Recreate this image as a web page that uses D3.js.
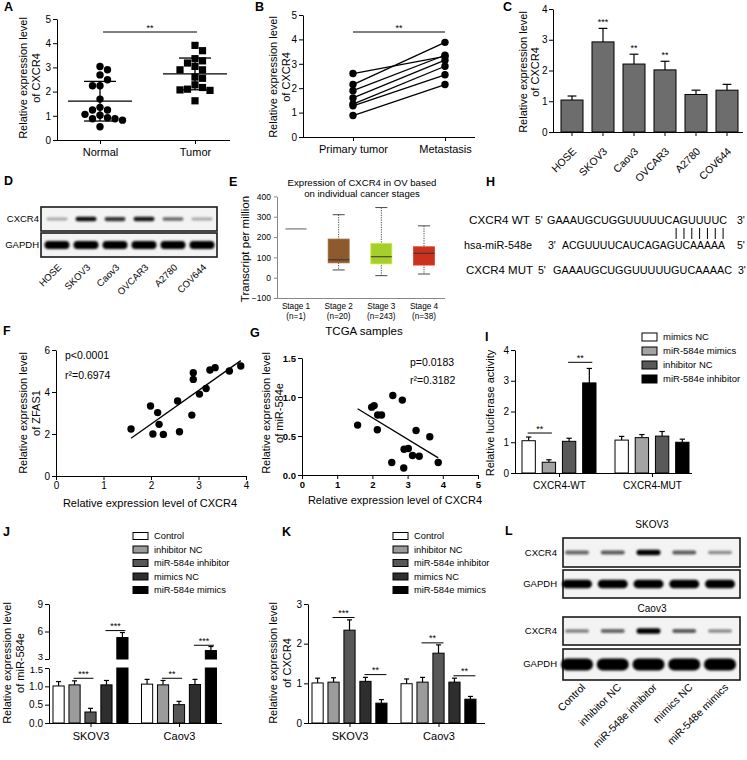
<!DOCTYPE html>
<html><head><meta charset="utf-8">
<script src="https://cdn.jsdelivr.net/npm/d3@7"></script>
<style>
body{margin:0;background:#fff;}
svg{display:block;}
</style></head><body>
<svg id="fig" width="747" height="760"></svg>
<script>
// ================= DATA =================
// A
const aGroups = ["Normal", "Tumor"];
const aNormal = [3.04, 2.9, 2.69, 2.49, 2.24, 2.24, 1.69, 1.35, 1.24, 1.24, 1.06, 1.02, 0.92, 0.88, 0.88, 0.82, 0.55];
const aTumor = [3.91, 3.69, 3.36, 3.27, 3.18, 3.04, 2.9, 2.9, 2.6, 2.55, 2.28, 2.17, 2.1, 2.07, 2.05, 1.62];
const aTicks = [0, 1, 2, 3, 4, 5];
// B
const bGroups = ["Primary tumor", "Metastasis"];
const bPrimary = [2.6, 2.15, 1.9, 1.6, 1.35, 1.28, 0.88];
const bMetastasis = [3.3, 3.88, 3.35, 3.15, 2.9, 2.55, 2.15];
const bTicks = [0, 1, 2, 3, 4, 5];
// C
const cCells = ["HOSE", "SKOV3", "Caov3", "OVCAR3", "A2780", "COV644"];
const cMean = [1.04, 2.93, 2.21, 2.02, 1.22, 1.36];
const cErr = [0.13, 0.44, 0.32, 0.28, 0.14, 0.19];
const cSig = ["", "***", "**", "**", "", ""];
const cTicks = [0, 1, 2, 3, 4];
// D (band intensities, 0-1)
const dLanes = ["HOSE", "SKOV3", "Caov3", "OVCAR3", "A2780", "COV644"];
const dCXCR4 = [0.3, 0.9, 0.75, 0.85, 0.55, 0.3];
const dGAPDH = [0.95, 0.95, 0.95, 0.95, 0.95, 0.95];
// E
const eStages = ["Stage 1", "Stage 2", "Stage 3", "Stage 4"];
const eN = ["(n=1)", "(n=20)", "(n=243)", "(n=38)"];
const eMin = [240, 38, 10, 18];
const eQ1 = [240, 73, 68, 62];
const eMed = [240, 88, 103, 120];
const eQ3 = [240, 190, 168, 152];
const eMax = [240, 310, 345, 255];
const eColors = ["none", "#8c5a2c", "#a6cf2b", "#c8321f"];
const eTicks = [-100, 0, 100, 200, 300, 400];
// F
const fX = [1.58, 1.99, 2.14, 2.17, 2.04, 2.26, 2.56, 2.6, 2.86, 2.89, 2.89, 3.02, 3.16, 3.24, 3.35, 3.65, 3.89];
const fY = [2.24, 3.33, 3.02, 2.46, 2.0, 1.98, 3.57, 2.11, 2.9, 4.92, 4.6, 3.9, 4.17, 5.05, 5.16, 5.0, 5.24];
const fXTicks = [0, 1, 2, 3, 4];
const fYTicks = [0, 2, 4, 6];
// G
const gX = [1.58, 1.98, 2.05, 2.15, 2.26, 2.14, 2.58, 2.85, 2.55, 2.89, 2.9, 3.02, 3.14, 3.24, 3.33, 3.63, 3.87];
const gY = [0.64, 0.87, 0.89, 0.77, 0.77, 0.58, 1.02, 0.96, 0.16, 0.09, 0.33, 0.34, 0.25, 0.57, 0.24, 0.49, 0.16];
const gXTicks = [0, 1, 2, 3, 4, 5];
const gYTicks = [0, 0.5, 1.0, 1.5];
// H
const hNames = ["CXCR4  WT", "hsa-miR-548e", "CXCR4  MUT"];
const hLeftEnd = ["5'", "3'", "5'"];
const hSeqs = ["GAAAUGCUGGUUUUUCAGUUUUC", "ACGUUUUCAUCAGAGUCAAAAA", "GAAAUGCUGGUUUUUGUCAAAAC"];
const hRightEnd = ["3'", "5'", "3'"];
const hPairs = [16, 17, 18, 19, 20, 21, 22]; // paired positions in WT sequence
// I
const iGroups = ["CXCR4-WT", "CXCR4-MUT"];
const iSeries = ["mimics NC", "miR-584e mimics", "inhibitor NC", "miR-584e inhibitor"];
const iMean = [[1.05, 0.35, 1.03, 2.93], [1.07, 1.15, 1.2, 1.0]];
const iErr = [[0.12, 0.08, 0.1, 0.47], [0.12, 0.1, 0.15, 0.1]];
const iColors = ["#ffffff", "#a3a3a3", "#595959", "#000000"];
const iTicks = [0, 1, 2, 3, 4];
const iSig = [{g: 0, a: 0, b: 1, v: 1.3, t: "**"}, {g: 0, a: 2, b: 3, v: 3.6, t: "**"}];
// J
const jGroups = ["SKOV3", "Caov3"];
const jSeries = ["Control", "inhibitor NC", "miR-584e inhibitor", "mimics NC", "miR-584e mimics"];
const jMean = [[1.01, 1.04, 0.3, 1.04, 5.34], [1.06, 1.04, 0.5, 1.05, 3.92]];
const jErr = [[0.12, 0.11, 0.1, 0.12, 0.55], [0.13, 0.12, 0.09, 0.14, 0.44]];
const jLowTicks = [0, 0.5, 1.0, 1.5];
const jHighTicks = [3, 6, 9];
const jSig = [{g: 0, a: 1, b: 2, v: 1.22, t: "***"}, {g: 0, a: 3, b: 4, v: 6.1, t: "***"},
              {g: 1, a: 1, b: 2, v: 1.22, t: "**"}, {g: 1, a: 3, b: 4, v: 4.5, t: "***"}];
// K
const kGroups = ["SKOV3", "Caov3"];
const kSeries = jSeries;
const kMean = [[1.01, 1.03, 2.34, 1.05, 0.5], [0.99, 1.03, 1.76, 1.03, 0.6]];
const kErr = [[0.12, 0.11, 0.26, 0.1, 0.09], [0.12, 0.12, 0.21, 0.1, 0.07]];
const kTicks = [0, 1, 2, 3];
const kSig = [{g: 0, a: 1, b: 2, v: 2.66, t: "***"}, {g: 0, a: 3, b: 4, v: 1.22, t: "**"},
              {g: 1, a: 1, b: 2, v: 2.02, t: "**"}, {g: 1, a: 3, b: 4, v: 1.19, t: "**"}];
const jkColors = ["#ffffff", "#9b9b9b", "#575757", "#2e2e2e", "#000000"];
// L
const lLanes = ["Control", "inhibitor NC", "miR-548e inhibitor", "mimics NC", "miR-548e mimics"];
const lSkovCXCR4 = [0.55, 0.6, 0.95, 0.6, 0.4];
const lSkovGAPDH = [0.95, 0.95, 0.95, 0.95, 0.95];
const lCaovCXCR4 = [0.45, 0.55, 0.95, 0.6, 0.4];
const lCaovGAPDH = [1, 1, 1, 1, 1];

// ================= HELPERS =================
const FONT = "'Liberation Sans', Arial, Helvetica, sans-serif";
const INT = d3.format("d");
const ONE = d3.format(".1f");
const svg = d3.select("#fig").attr("font-family", FONT);
const defs = svg.append("defs");
defs.append("filter").attr("id", "bl").attr("x", "-30%").attr("y", "-150%").attr("width", "160%").attr("height", "400%")
  .append("feGaussianBlur").attr("stdDeviation", 1.3);

function txt(x, y, s, o = {}) {
  const t = svg.append("text").attr("x", x).attr("y", y).text(s)
    .attr("font-size", o.size || 10).attr("text-anchor", o.anchor || "start")
    .attr("font-weight", o.weight || "normal").attr("fill", o.fill || "#000");
  if (o.rotate !== undefined) t.attr("transform", `rotate(${o.rotate},${x},${y})`);
  if (o.tl) t.attr("textLength", o.tl).attr("lengthAdjust", "spacingAndGlyphs");
  return t;
}
function panelLabel(x, y, s) { txt(x, y, s, {size: 12.5, weight: "bold"}); }
function yTitle(x, cy, lines, size = 11, gap = 12.5) {
  lines.forEach((l, i) => txt(x + i * gap, cy, l, {size, anchor: "middle", rotate: -90}));
}
function styleAx(g, size = 10, weight = "normal", color = "#000") {
  g.attr("font-family", FONT).attr("font-size", size);
  g.selectAll(".domain").attr("stroke", color).attr("stroke-width", 1);
  g.selectAll(".tick line").attr("stroke", color).attr("stroke-width", 1);
  g.selectAll(".tick text").attr("fill", "#000").attr("font-weight", weight);
}
function hline(x1, x2, y, w = 1.2) {
  svg.append("line").attr("x1", x1).attr("x2", x2).attr("y1", y).attr("y2", y).attr("stroke", "#000").attr("stroke-width", w);
}
function vline(x, y1, y2, w = 1.2) {
  svg.append("line").attr("x1", x).attr("x2", x).attr("y1", y1).attr("y2", y2).attr("stroke", "#000").attr("stroke-width", w);
}
function sig(x1, x2, y, t, size = 9) {
  hline(x1, x2, y, 1);
  txt((x1 + x2) / 2, y - 1.5, t, {size, anchor: "middle"});
}
function barErr(x, w, yTop, yErr, yBase, fill) {
  const cx = x + w / 2, cap = Math.max(2.5, w * 0.2);
  vline(cx, yTop, yErr, 1.2);
  hline(cx - cap, cx + cap, yErr, 1.2);
  svg.append("rect").attr("x", x).attr("y", yTop).attr("width", w).attr("height", Math.max(0, yBase - yTop))
    .attr("fill", fill).attr("stroke", "#000").attr("stroke-width", 1);
}
function swarm(values, yScale, minDist, step) {
  const placed = [], offs = [];
  const order = values.map((v, i) => i).sort((a, b) => values[b] - values[a]);
  order.forEach(i => {
    const y = yScale(values[i]);
    for (let k = 0; k < 30; k++) {
      const cands = k === 0 ? [0] : (k % 2 ? [k * step, -k * step] : [-k * step, k * step]);
      const c = cands.find(c => placed.every(p => Math.hypot(p.x - c, p.y - y) >= minDist));
      if (c !== undefined) { offs[i] = c; placed.push({x: c, y}); break; }
    }
  });
  return offs;
}
function blotStrip(x0, x1, y0, y1, xs, lanes, intens, bw, hMax) {
  svg.append("rect").attr("x", x0).attr("y", y0).attr("width", x1 - x0).attr("height", y1 - y0)
    .attr("fill", "#f3f3f3").attr("stroke", "#1a1a1a").attr("stroke-width", 1.6);
  const cy = (y0 + y1) / 2;
  lanes.forEach((l, i) => {
    const a = intens[i], h = hMax * (0.4 + 0.6 * a);
    svg.append("rect").attr("x", xs(l) - bw / 2).attr("y", cy - h / 2).attr("width", bw).attr("height", h)
      .attr("rx", h / 2).attr("fill", "#000").attr("opacity", Math.min(1, a * 1.05)).attr("filter", "url(#bl)");
  });
}
function rotLabels(xs, lanes, dx, y, size) {
  lanes.forEach(l => {
    svg.append("text").attr("transform", `translate(${xs(l) + dx},${y}) rotate(-45)`)
      .attr("text-anchor", "end").attr("font-size", size).attr("fill", "#000").text(l);
  });
}
function legend(x, y0, step, names, colors, size, bw = 15, bh = 8) {
  names.forEach((n, i) => {
    const cy = y0 + i * step;
    svg.append("rect").attr("x", x).attr("y", cy - bh / 2).attr("width", bw).attr("height", bh)
      .attr("fill", colors[i]).attr("stroke", "#000").attr("stroke-width", 1);
    txt(x + bw + 6, cy + size * 0.36, n, {size});
  });
}

// ================= PANEL A =================
{
  panelLabel(4, 11, "A");
  const y = d3.scaleLinear().domain([0, 5]).range([140, 19]);
  const x = d3.scalePoint().domain(aGroups).range([100, 195]);
  svg.append("g").attr("transform", "translate(57,0)")
    .call(d3.axisLeft(y).tickValues(aTicks).tickFormat(INT).tickSize(4).tickSizeOuter(0).tickPadding(2)).call(g => styleAx(g, 10));
  const gx = svg.append("g").attr("transform", "translate(0,140)")
    .call(d3.axisBottom(x).tickSize(4).tickSizeOuter(0).tickPadding(4)).call(g => styleAx(g, 11));
  gx.select(".domain").attr("d", "M57,0.5H230");
  yTitle(27, 78, ["Relative expression level", "of CXCR4"]);
  [aNormal, aTumor].forEach((arr, gi) => {
    const cx = x(aGroups[gi]);
    const m = d3.mean(arr), sd = d3.deviation(arr);
    hline(cx - 32, cx + 32, y(m), 1.3);
    hline(cx - 16, cx + 16, y(m + sd), 1.3);
    hline(cx - 16, cx + 16, y(m - sd), 1.3);
    vline(cx, y(m + sd), y(m - sd), 1.3);
    const offs = swarm(arr, y, 7.4, 7.5);
    arr.forEach((v, i) => {
      if (gi === 0) svg.append("circle").attr("cx", cx + offs[i]).attr("cy", y(v)).attr("r", 3.7).attr("fill", "#000");
      else svg.append("rect").attr("x", cx + offs[i] - 3.6).attr("y", y(v) - 3.6).attr("width", 7.2).attr("height", 7.2).attr("fill", "#000");
    });
  });
  sig(103, 197, 32, "**");
}

// ================= PANEL B =================
{
  panelLabel(255, 11, "B");
  const y = d3.scaleLinear().domain([0, 5]).range([137, 15]);
  const x = d3.scalePoint().domain(bGroups).range([353, 445]);
  svg.append("g").attr("transform", "translate(303,0)")
    .call(d3.axisLeft(y).tickValues(bTicks).tickFormat(INT).tickSize(4).tickSizeOuter(0).tickPadding(2)).call(g => styleAx(g, 10));
  const gx = svg.append("g").attr("transform", "translate(0,137)")
    .call(d3.axisBottom(x).tickSize(4).tickSizeOuter(0).tickPadding(4)).call(g => styleAx(g, 11));
  gx.select(".domain").attr("d", "M303,0.5H475");
  yTitle(277, 77, ["Relative expression level", "of CXCR4"]);
  bPrimary.forEach((v, i) => {
    svg.append("line").attr("x1", x(bGroups[0])).attr("y1", y(v)).attr("x2", x(bGroups[1])).attr("y2", y(bMetastasis[i]))
      .attr("stroke", "#000").attr("stroke-width", 1.3);
  });
  bPrimary.forEach(v => svg.append("circle").attr("cx", x(bGroups[0])).attr("cy", y(v)).attr("r", 3.7).attr("fill", "#000"));
  bMetastasis.forEach(v => svg.append("circle").attr("cx", x(bGroups[1])).attr("cy", y(v)).attr("r", 3.7).attr("fill", "#000"));
  sig(353, 445, 32, "**");
}

// ================= PANEL C =================
{
  panelLabel(503, 11, "C");
  const y = d3.scaleLinear().domain([0, 4]).range([132, 9]);
  const x = d3.scaleBand().domain(cCells).range([556.5, 742.5]).paddingInner(0.29).paddingOuter(0.145);
  svg.append("g").attr("transform", "translate(553,0)")
    .call(d3.axisLeft(y).tickValues(cTicks).tickFormat(INT).tickSize(4).tickSizeOuter(0).tickPadding(1.5)).call(g => styleAx(g, 10));
  const gx = svg.append("g").attr("transform", "translate(0,132)")
    .call(d3.axisBottom(x).tickSize(4).tickSizeOuter(0).tickFormat("")).call(g => styleAx(g, 10));
  gx.select(".domain").attr("d", "M553,0.5H743");
  yTitle(527, 72, ["Relative expression level", "of CXCR4"], 11, 12);
  cCells.forEach((c, i) => {
    barErr(x(c), x.bandwidth(), y(cMean[i]), y(cMean[i] + cErr[i]), y(0), "#6d6d6d");
    if (cSig[i]) txt(x(c) + x.bandwidth() / 2, y(cMean[i] + cErr[i]) - 3, cSig[i], {size: 9, anchor: "middle"});
  });
  const xc = c => x(c) + x.bandwidth() / 2;
  rotLabels(xc, cCells, 5, 152, 10.5);
}

// ================= PANEL D =================
{
  panelLabel(4, 185, "D");
  const xs = d3.scalePoint().domain(dLanes).range([57, 202]);
  blotStrip(41, 217, 207, 231, xs, dLanes, dCXCR4, 21, 5);
  blotStrip(41, 217, 233, 257, xs, dLanes, dGAPDH, 25, 8);
  txt(39, 222, "CXCR4", {size: 9.5, anchor: "end"});
  txt(39, 248, "GAPDH", {size: 9.5, anchor: "end"});
  rotLabels(xs, dLanes, 5, 268, 9.5);
}

// ================= PANEL E =================
{
  panelLabel(229, 186, "E");
  const y = d3.scaleLinear().domain([-100, 400]).range([298, 196.4]);
  const x = d3.scalePoint().domain(eStages).range([296, 424]);
  svg.append("g").attr("transform", "translate(277,0)")
    .call(d3.axisLeft(y).tickValues(eTicks).tickFormat(INT).tickSize(3).tickSizeOuter(0).tickPadding(3)).call(g => styleAx(g, 8.5, "normal", "#888"));
  const gx = svg.append("g").attr("transform", "translate(0,298)")
    .call(d3.axisBottom(x).tickSize(0).tickFormat("")).call(g => styleAx(g, 8.5, "normal", "#888"));
  gx.select(".domain").attr("d", "M277,0.5H445");
  txt(362, 186, "Expression of CXCR4 in OV based", {size: 9.6, anchor: "middle"});
  txt(362, 197, "on individual cancer stages", {size: 9.6, anchor: "middle"});
  txt(249, 249, "Transcript per million", {size: 11.5, anchor: "middle", rotate: -90});
  eStages.forEach((s, i) => {
    txt(x(s), 309, s, {size: 8.2, anchor: "middle"});
    txt(x(s), 318.5, eN[i], {size: 8.2, anchor: "middle"});
  });
  txt(364, 335, "TCGA samples", {size: 11.5, anchor: "middle"});
  const bw = 21;
  eStages.forEach((s, i) => {
    const cx = x(s);
    if (eColors[i] === "none") {
      svg.append("line").attr("x1", cx - bw / 2).attr("x2", cx + bw / 2).attr("y1", y(eMed[i])).attr("y2", y(eMed[i]))
        .attr("stroke", "#777").attr("stroke-width", 1.2);
      return;
    }
    svg.append("line").attr("x1", cx).attr("x2", cx).attr("y1", y(eMax[i])).attr("y2", y(eMin[i]))
      .attr("stroke", "#333").attr("stroke-width", 0.9).attr("stroke-dasharray", "1.2,1.2");
    [eMax[i], eMin[i]].forEach(v => svg.append("line").attr("x1", cx - 6).attr("x2", cx + 6).attr("y1", y(v)).attr("y2", y(v))
      .attr("stroke", "#333").attr("stroke-width", 0.9));
    svg.append("rect").attr("x", cx - bw / 2).attr("y", y(eQ3[i])).attr("width", bw).attr("height", y(eQ1[i]) - y(eQ3[i]))
      .attr("fill", eColors[i]).attr("stroke", d3.color(eColors[i]).brighter(0.4)).attr("stroke-width", 0.8);
    svg.append("line").attr("x1", cx - bw / 2).attr("x2", cx + bw / 2).attr("y1", y(eMed[i])).attr("y2", y(eMed[i]))
      .attr("stroke", "#333").attr("stroke-width", 1);
  });
}

// ================= PANEL H =================
{
  panelLabel(486, 186, "H");
  const rows = [
    {y: 224, nx: 469, nw: 61, lx: 535, sx: 547, sw: 180, rx: 737},
    {y: 249, nx: 464, nw: 68, lx: 548, sx: 562, sw: 163, rx: 737},
    {y: 274, nx: 466, nw: 67, lx: 538, sx: 553, sw: 179, rx: 738}
  ];
  rows.forEach((r, i) => {
    txt(r.nx, r.y, hNames[i], {size: 10.5, tl: r.nw});
    txt(r.lx, r.y, hLeftEnd[i], {size: 10.5});
    txt(r.sx, r.y, hSeqs[i], {size: 10.5, tl: r.sw});
    txt(r.rx, r.y, hRightEnd[i], {size: 10.5});
  });
  const cw = rows[0].sw / hSeqs[0].length;
  hPairs.forEach(p => vline(rows[0].sx + (p + 0.5) * cw, 228, 239, 1));
}

// ================= PANEL F =================
{
  panelLabel(3, 335, "F");
  const x = d3.scaleLinear().domain([0, 4]).range([56, 246]);
  const y = d3.scaleLinear().domain([0, 6]).range([476, 350]);
  svg.append("g").attr("transform", "translate(56,0)")
    .call(d3.axisLeft(y).tickValues(fYTicks).tickFormat(INT).tickSize(4).tickSizeOuter(0).tickPadding(2)).call(g => styleAx(g, 10));
  svg.append("g").attr("transform", "translate(0,476)")
    .call(d3.axisBottom(x).tickValues(fXTicks).tickFormat(INT).tickSize(4).tickSizeOuter(0).tickPadding(2)).call(g => styleAx(g, 10));
  yTitle(27, 413, ["Relative expression level", "of ZFAS1"]);
  txt(150, 507, "Relative expression level of CXCR4", {size: 11, anchor: "middle"});
  txt(65, 359, "p<0.0001", {size: 10.5});
  txt(65, 379, "r²=0.6974", {size: 10.5});
  const mx = d3.mean(fX), my = d3.mean(fY);
  const slope = d3.sum(fX, (v, i) => (v - mx) * (fY[i] - my)) / d3.sum(fX, v => (v - mx) ** 2);
  const x0 = d3.min(fX), x1 = d3.max(fX);
  svg.append("line").attr("x1", x(x0)).attr("y1", y(my + slope * (x0 - mx))).attr("x2", x(x1)).attr("y2", y(my + slope * (x1 - mx)))
    .attr("stroke", "#000").attr("stroke-width", 1.3);
  fX.forEach((v, i) => svg.append("circle").attr("cx", x(v)).attr("cy", y(fY[i])).attr("r", 3.7).attr("fill", "#000"));
}

// ================= PANEL G =================
{
  panelLabel(250, 337, "G");
  const x = d3.scaleLinear().domain([0, 5]).range([302, 478]);
  const y = d3.scaleLinear().domain([0, 1.5]).range([475, 358]);
  svg.append("g").attr("transform", "translate(302,0)")
    .call(d3.axisLeft(y).tickValues(gYTicks).tickFormat(ONE).tickSize(4).tickSizeOuter(0).tickPadding(2)).call(g => styleAx(g, 9.5, "bold"));
  svg.append("g").attr("transform", "translate(0,475)")
    .call(d3.axisBottom(x).tickValues(gXTicks).tickFormat(INT).tickSize(4).tickSizeOuter(0).tickPadding(2)).call(g => styleAx(g, 9.5, "bold"));
  yTitle(270, 413, ["Relative expression level", "of miR-584e"]);
  txt(395, 504, "Relative expression level of CXCR4", {size: 11, anchor: "middle"});
  txt(410, 366, "p=0.0183", {size: 10.5});
  txt(410, 384, "r²=0.3182", {size: 10.5});
  const mx = d3.mean(gX), my = d3.mean(gY);
  const slope = d3.sum(gX, (v, i) => (v - mx) * (gY[i] - my)) / d3.sum(gX, v => (v - mx) ** 2);
  const x0 = d3.min(gX), x1 = d3.max(gX);
  svg.append("line").attr("x1", x(x0)).attr("y1", y(my + slope * (x0 - mx))).attr("x2", x(x1)).attr("y2", y(my + slope * (x1 - mx)))
    .attr("stroke", "#000").attr("stroke-width", 1.3);
  gX.forEach((v, i) => svg.append("circle").attr("cx", x(v)).attr("cy", y(gY[i])).attr("r", 3.7).attr("fill", "#000"));
}

// ================= PANEL I =================
{
  panelLabel(485, 341, "I");
  const y = d3.scaleLinear().domain([0, 4]).range([473, 350]);
  const xg = d3.scalePoint().domain(iGroups).range([559, 652]);
  const xs = d3.scaleBand().domain(iSeries).range([-37, 37]).paddingInner(0.34);
  svg.append("g").attr("transform", "translate(515,0)")
    .call(d3.axisLeft(y).tickValues(iTicks).tickFormat(INT).tickSize(4).tickSizeOuter(0).tickPadding(2)).call(g => styleAx(g, 10));
  const gx = svg.append("g").attr("transform", "translate(0,473)")
    .call(d3.axisBottom(xg).tickSize(4).tickSizeOuter(0).tickPadding(5)).call(g => styleAx(g, 10));
  gx.select(".domain").attr("d", "M515,0.5H692");
  txt(494, 413, "Relative luciferase activity", {size: 11, anchor: "middle", rotate: -90});
  iGroups.forEach((g, gi) => iSeries.forEach((s, si) => {
    const v = iMean[gi][si], e = iErr[gi][si];
    barErr(xg(g) + xs(s), xs.bandwidth(), y(v), y(v + e), y(0), iColors[si]);
  }));
  const bc = (g, s) => xg(iGroups[g]) + xs(iSeries[s]) + xs.bandwidth() / 2;
  iSig.forEach(d => sig(bc(d.g, d.a) - 1, bc(d.g, d.b) + 3, y(d.v), d.t));
  legend(642, 337, 14, iSeries, iColors, 9.5, 15, 8);
}

// ================= PANEL J =================
{
  panelLabel(3, 536, "J");
  const yLo = d3.scaleLinear().domain([0, 1.5]).range([723, 668]);
  const yHi = d3.scaleLinear().domain([3, 9]).range([659, 604]);
  const xg = d3.scalePoint().domain(jGroups).range([90.5, 179]);
  const xs = d3.scaleBand().domain(jSeries).range([-37.5, 37.5]).paddingInner(0.3);
  const gLo = svg.append("g").attr("transform", "translate(49,0)")
    .call(d3.axisLeft(yLo).tickValues(jLowTicks).tickFormat(ONE).tickSize(4).tickSizeOuter(0).tickPadding(2)).call(g => styleAx(g, 10));
  const gHi = svg.append("g").attr("transform", "translate(49,0)")
    .call(d3.axisLeft(yHi).tickValues(jHighTicks).tickFormat(INT).tickSize(4).tickSizeOuter(0).tickPadding(2)).call(g => styleAx(g, 10));
  // the labels either side of the axis break sit very close: nudge them apart slightly
  gLo.selectAll(".tick text").filter(d => d === 1.5).attr("font-size", 9.5).attr("dy", "0.5em");
  gHi.selectAll(".tick text").filter(d => d === 3).attr("font-size", 9.5).attr("dy", "0.1em");
  const gx = svg.append("g").attr("transform", "translate(0,723)")
    .call(d3.axisBottom(xg).tickSize(4).tickSizeOuter(0).tickPadding(5)).call(g => styleAx(g, 11));
  gx.select(".domain").attr("d", "M49,0.5H222");
  yTitle(11, 663, ["Relative expression level", "of miR-584e"], 11, 13);
  jGroups.forEach((g, gi) => jSeries.forEach((s, si) => {
    const v = jMean[gi][si], e = jErr[gi][si], x = xg(g) + xs(s), w = xs.bandwidth();
    if (v <= 1.5) barErr(x, w, yLo(v), yLo(v + e), yLo(0), jkColors[si]);
    else {
      svg.append("rect").attr("x", x).attr("y", yLo(1.5)).attr("width", w).attr("height", yLo(0) - yLo(1.5))
        .attr("fill", jkColors[si]).attr("stroke", "#000").attr("stroke-width", 1);
      barErr(x, w, yHi(v), yHi(v + e), yHi(3), jkColors[si]);
    }
  }));
  const bc = (g, s) => xg(jGroups[g]) + xs(jSeries[s]) + xs.bandwidth() / 2;
  jSig.forEach(d => sig(bc(d.g, d.a) - 1, bc(d.g, d.b) + 3, d.v > 2 ? yHi(d.v) : yLo(d.v), d.t));
  legend(133, 536, 13.5, jSeries, jkColors, 9.3, 15, 7);
}

// ================= PANEL K =================
{
  panelLabel(282, 536, "K");
  const y = d3.scaleLinear().domain([0, 3]).range([723, 604]);
  const xg = d3.scalePoint().domain(kGroups).range([349.5, 438.5]);
  const xs = d3.scaleBand().domain(kSeries).range([-37.5, 37.5]).paddingInner(0.3);
  svg.append("g").attr("transform", "translate(308,0)")
    .call(d3.axisLeft(y).tickValues(kTicks).tickFormat(INT).tickSize(4).tickSizeOuter(0).tickPadding(2)).call(g => styleAx(g, 10));
  const gx = svg.append("g").attr("transform", "translate(0,723)")
    .call(d3.axisBottom(xg).tickSize(4).tickSizeOuter(0).tickPadding(5)).call(g => styleAx(g, 11));
  gx.select(".domain").attr("d", "M308,0.5H485");
  yTitle(277, 663, ["Relative expression level", "of CXCR4"], 11, 13.5);
  kGroups.forEach((g, gi) => kSeries.forEach((s, si) => {
    const v = kMean[gi][si], e = kErr[gi][si];
    barErr(xg(g) + xs(s), xs.bandwidth(), y(v), y(v + e), y(0), jkColors[si]);
  }));
  const bc = (g, s) => xg(kGroups[g]) + xs(kSeries[s]) + xs.bandwidth() / 2;
  kSig.forEach(d => sig(bc(d.g, d.a) - 1, bc(d.g, d.b) + 5, y(d.v), d.t));
  legend(393, 536, 13.5, kSeries, jkColors, 9.3, 15, 7);
}

// ================= PANEL L =================
{
  panelLabel(505, 535, "L");
  const xs = d3.scalePoint().domain(lLanes).range([577, 720]);
  txt(652, 528, "SKOV3", {size: 10, anchor: "middle"});
  txt(652, 612, "Caov3", {size: 10, anchor: "middle"});
  blotStrip(563, 740, 538, 567, xs, lLanes, lSkovCXCR4, 24, 5.5);
  blotStrip(563, 740, 570, 598, xs, lLanes, lSkovGAPDH, 30, 9);
  blotStrip(563, 740, 617, 645, xs, lLanes, lCaovCXCR4, 24, 5.5);
  blotStrip(563, 740, 649, 680, xs, lLanes, lCaovGAPDH, 32, 12);
  txt(557, 556, "CXCR4", {size: 9.5, anchor: "end"});
  txt(557, 587, "GAPDH", {size: 9.5, anchor: "end"});
  txt(557, 634, "CXCR4", {size: 9.5, anchor: "end"});
  txt(557, 667, "GAPDH", {size: 9.5, anchor: "end"});
  rotLabels(xs, lLanes, 9, 688, 10.5);
}
</script></body></html>
